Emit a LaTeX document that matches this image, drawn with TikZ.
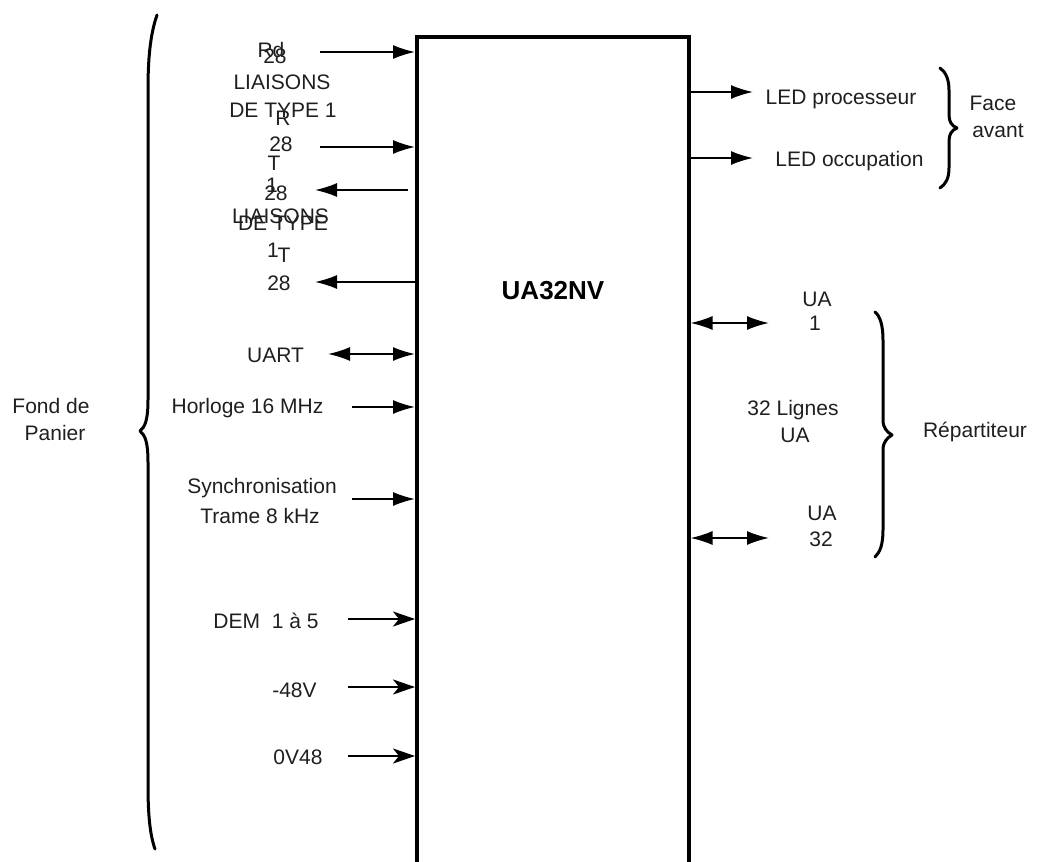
\documentclass[tikz,border=0pt]{standalone}
\usepackage{fontspec}
\setmainfont{Liberation Sans}
\usetikzlibrary{arrows.meta}
\begin{document}
\begin{tikzpicture}[x=1pt,y=-1pt,
  lbl/.style={font=\fontsize{21}{25}\selectfont, inner sep=0pt, anchor=base, text=black!88},
  wire/.style={line width=1.6pt},
  tri/.style={wire,-{Latex[length=22pt,width=14pt]}},
  trib/.style={wire,{Latex[length=22pt,width=14pt]}-{Latex[length=22pt,width=14pt]}},
  stl/.style={line width=2.2pt,-{Stealth[length=22pt,width=15pt,inset=6pt]}},
  bracepath/.style={line width=3pt, line cap=round, line join=round}]
\useasboundingbox (0,0) rectangle (1037,862);

% main block
\node[draw, line width=3.5pt, minimum width=272pt, minimum height=900pt,
      anchor=north west, inner sep=0pt] (box) at (415,35) {};
\node[font=\bfseries\fontsize{26}{30}\selectfont, inner sep=0pt, anchor=base] (title) at (553,299) {UA32NV};

% left labels
\node[lbl] (rd)    at (271,57.5)  {Rd};
\node[lbl] (rdn)   at (275,63.5)  {28};
\node[lbl] (liai1) at (282,89.5)  {LIAISONS};
\node[lbl] (type1) at (283,117.5) {DE TYPE 1};
\node[lbl] (rr)    at (283,125.5) {R};
\node[lbl] (rn)    at (281,151.5) {28};
\node[lbl] (tt)    at (274,170.5) {T};
\node[lbl] (onea)  at (272,192.5) {1};
\node[lbl] (tn)    at (276,200)   {28};
\node[lbl] (liai2) at (280.5,223.5) {LIAISONS};
\node[lbl] (type2) at (283,230.5) {DE TYPE};
\node[lbl] (oneb)  at (273,257)   {1};
\node[lbl] (ttb)   at (284,262)   {T};
\node[lbl] (tnb)   at (279,290.5) {28};
\node[lbl] (uart)  at (275.5,362) {UART};
\node[lbl] (horl)  at (247.5,413.5) {Horloge 16 MHz};
\node[lbl] (sync)  at (262,493.5) {Synchronisation};
\node[lbl] (trame) at (260,523)   {Trame 8 kHz};
\node[lbl] (dem)   at (266,628.5) {DEM~ 1 à 5};
\node[lbl] (m48)   at (294.5,697) {-48V};
\node[lbl] (v48)   at (298,764.5) {0V48};
\node[lbl] (fond)  at (51,413)    {Fond de};
\node[lbl] (panier) at (55,440)   {Panier};

% right labels
\node[lbl] (ledp)  at (841,104.5) {LED processeur};
\node[lbl] (ledo)  at (849.5,166) {LED occupation};
\node[lbl] (face)  at (993,110)   {Face};
\node[lbl] (avant) at (998,137)   {avant};
\node[lbl] (uaa)   at (817,306.5) {UA};
\node[lbl] (uab)   at (815,330)   {1};
\node[lbl] (lig)   at (793,415)   {32 Lignes};
\node[lbl] (ligb)  at (795,442)   {UA};
\node[lbl] (uac)   at (822,520.5) {UA};
\node[lbl] (uad)   at (821,546)   {32};
\node[lbl] (rep)   at (975,437)   {Répartiteur};

% connector ends
\coordinate (a1) at (320,52);
\coordinate (a2) at (320,147);
\coordinate (a3s) at (408,190);
\coordinate (a3e) at (315,190);
\coordinate (a4) at (315,282);
\coordinate (a5) at (328,354);
\coordinate (a6) at (352,407);
\coordinate (a7) at (352,499);
\coordinate (a8) at (348,619);
\coordinate (a9) at (348,687);
\coordinate (a10) at (348,756);
\coordinate (r1) at (753,92);
\coordinate (r2) at (753,158);
\coordinate (r3) at (769,323);
\coordinate (r4) at (769,538);

\draw[tri] (a1) -- (a1 -| box.west);
\draw[tri] (a2) -- (a2 -| box.west);
\draw[tri] (a3s) -- (a3e);
\draw[tri] (a4 -| box.west) -- (a4);
\draw[trib] (a5) -- (a5 -| box.west);
\draw[tri] (a6) -- (a6 -| box.west);
\draw[tri] (a7) -- (a7 -| box.west);
\draw[stl] (a8) -- (a8 -| box.west);
\draw[stl] (a9) -- (a9 -| box.west);
\draw[stl] (a10) -- (a10 -| box.west);
\draw[tri] (r1 -| box.east) -- (r1);
\draw[tri] (r2 -| box.east) -- (r2);
\draw[trib] (r3 -| box.east) -- (r3);
\draw[trib] (r4 -| box.east) -- (r4);

% braces
\draw[bracepath] (157,15) .. controls (150,35) and (148,60) .. (148,90) -- (148,400)
  .. controls (148,420) and (145,427) .. (140,431)
  .. controls (145,435) and (148,442) .. (148,462) -- (148,785)
  .. controls (148,815) and (150,835) .. (155,849);
\draw[bracepath] (940,68) .. controls (946,72) and (949,80) .. (949,90) -- (949,115)
  .. controls (949,122) and (952,126) .. (957,128)
  .. controls (952,130) and (949,134) .. (949,141) -- (949,168)
  .. controls (949,178) and (946,184) .. (940,188);
\draw[bracepath] (875,312) .. controls (880,316) and (883,325) .. (883,340) -- (883,420)
  .. controls (883,428) and (887,432) .. (892,435)
  .. controls (887,438) and (883,442) .. (883,450) -- (883,530)
  .. controls (883,545) and (880,552) .. (875,557);
\end{tikzpicture}
\end{document}
